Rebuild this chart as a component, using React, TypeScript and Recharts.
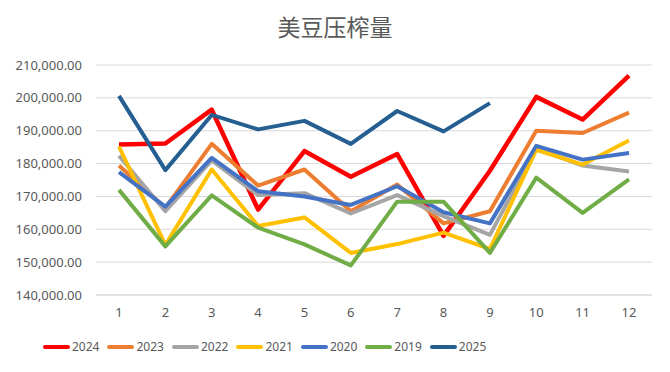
import { LineChart, Line, XAxis, YAxis, CartesianGrid, Legend } from 'recharts'

const months = ['1', '2', '3', '4', '5', '6', '7', '8', '9', '10', '11', '12']

const y2024 = [185800, 186100, 196400, 166000, 183800, 176000, 182900, 158000, 177800, 200300, 193400, 206800]
const y2023 = [179400, 166500, 186000, 173300, 178200, 165500, 173600, 161800, 165500, 190000, 189300, 195500]
const y2022 = [182400, 165500, 181000, 170400, 171000, 164800, 170400, 164000, 158300, 184600, 179400, 177600]
const y2021 = [185200, 155200, 178200, 161000, 163600, 152800, 155500, 159000, 154000, 184200, 179700, 187000]
const y2020 = [177400, 166900, 181700, 171600, 170000, 167400, 173100, 165200, 161800, 185400, 181200, 183200]
const y2019 = [172000, 154800, 170300, 160500, 155400, 149000, 168400, 168400, 152800, 175700, 165000, 175200]
const y2025 = [200600, 178000, 194800, 190400, 193000, 186000, 196000, 189800, 198400]

const yTicks = [140000, 150000, 160000, 170000, 180000, 190000, 200000, 210000]

const SERIES = [
  { key: '2024', color: '#ff0000', values: y2024 },
  { key: '2023', color: '#ed7d31', values: y2023 },
  { key: '2022', color: '#a5a5a5', values: y2022 },
  { key: '2021', color: '#ffc000', values: y2021 },
  { key: '2020', color: '#4472c4', values: y2020 },
  { key: '2019', color: '#70ad47', values: y2019 },
  { key: '2025', color: '#255e91', values: y2025 },
]

const data = months.map((m, i) => {
  const row: Record<string, string | number | null> = { month: m }
  SERIES.forEach(s => {
    row[s.key] = i < s.values.length ? s.values[i] : null
  })
  return row
})

const FONT = '"Noto Sans", sans-serif'

const fmt = (v: number) =>
  v.toLocaleString('en-US', { minimumFractionDigits: 2, maximumFractionDigits: 2 })

function LegendBox() {
  return (
    <div style={{ display: 'flex', gap: 8, fontFamily: FONT, fontSize: 12, color: '#595959' }}>
      {SERIES.map(s => (
        <div key={s.key} style={{ display: 'flex', alignItems: 'center' }}>
          <span style={{ width: 27, height: 4, borderRadius: 2, background: s.color, display: 'inline-block', marginRight: 2 }} />
          <span>{s.key}</span>
        </div>
      ))}
    </div>
  )
}

export default function App() {
  return (
    <div style={{ position: 'fixed', left: 0, top: 0, width: 670, height: 372, background: '#fff' }}>
      <div
        style={{
          position: 'absolute',
          top: 9,
          width: 670,
          textAlign: 'center',
          fontFamily: '"Noto Sans CJK SC", sans-serif',
          fontSize: 23,
          color: '#595959',
        }}
      >
        美豆压榨量
      </div>
      <LineChart width={670} height={372} data={data} margin={{ top: 65, right: 18, left: 0, bottom: 26 }}>
        <CartesianGrid vertical={false} stroke="#d9d9d9" strokeWidth={1} />
        <XAxis
          dataKey="month"
          padding={{ left: 23, right: 23 }}
          axisLine={{ stroke: '#d9d9d9' }}
          tickLine={false}
          tickSize={0}
          tickMargin={13}
          tick={{ fill: '#595959', fontSize: 13, fontFamily: FONT }}
          height={34}
        />
        <YAxis
          domain={[140000, 210000]}
          ticks={yTicks}
          tickFormatter={fmt}
          axisLine={false}
          tickLine={false}
          tickSize={0}
          tickMargin={14}
          width={96}
          tick={{ fill: '#595959', fontSize: 13, fontFamily: FONT }}
        />
        <Legend
          verticalAlign="bottom"
          content={() => <LegendBox />}
          wrapperStyle={{ left: 43, bottom: 17, width: 'auto' }}
        />
        {SERIES.map(s => (
          <Line
            key={s.key}
            dataKey={s.key}
            stroke={s.color}
            strokeWidth={s.key === '2024' ? 4.5 : 4}
            dot={false}
            activeDot={false}
            strokeLinejoin="round"
            isAnimationActive={false}
            connectNulls={false}
          />
        ))}
      </LineChart>
    </div>
  )
}
